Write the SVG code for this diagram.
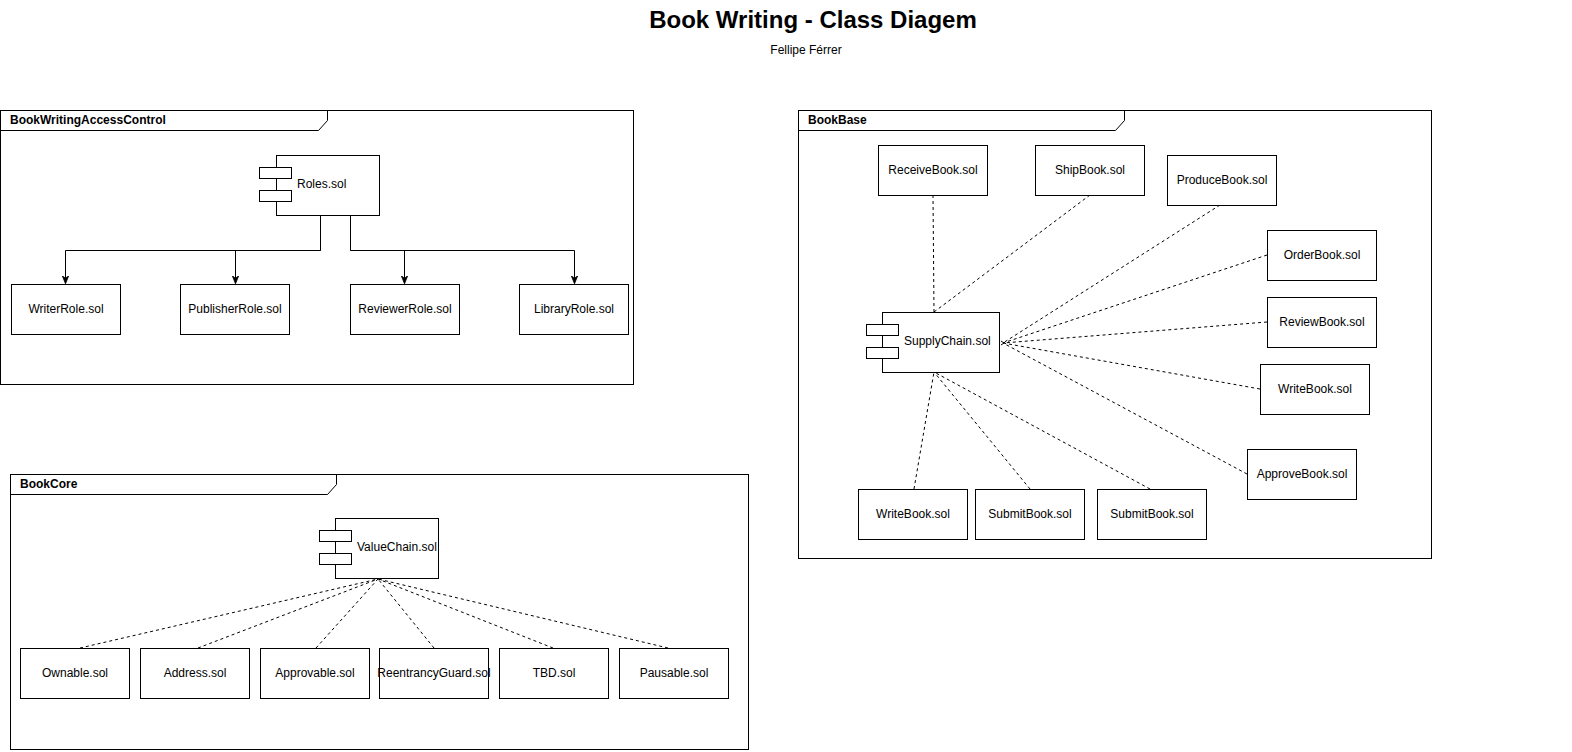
<svg xmlns="http://www.w3.org/2000/svg" width="1572" height="752" viewBox="0 0 1572 752">
<defs>
<style>
text{font-family:"Liberation Sans",Arial,sans-serif;fill:#000}
.t{font-size:12px;text-anchor:middle}
.fl{font-size:12px;font-weight:bold}
.b{fill:#fff;stroke:#000;stroke-width:1}
.f{fill:none;stroke:#000;stroke-width:1}
.s{fill:none;stroke:#000;stroke-width:1}
.d{fill:none;stroke:#000;stroke-width:1;stroke-dasharray:3 3}
</style>
<marker id="arr" viewBox="0 0 10 10" refX="9" refY="5" markerWidth="8" markerHeight="8" markerUnits="userSpaceOnUse" orient="auto">
<path d="M0,1 L10,5 L0,9 L3,5 Z" fill="#000" stroke="#000"/>
</marker>
</defs>
<rect width="1572" height="752" fill="#fff"/>
<g id="title">
<text x="813" y="28" style="font-size:24px;font-weight:bold;text-anchor:middle">Book Writing - Class Diagem</text>
<text x="806" y="54" style="font-size:12px;text-anchor:middle">Fellipe Férrer</text>
</g>
<g id="frame-access">
<rect class="f" x="0.5" y="110.5" width="633" height="274"/>
<path class="f" d="M0.5,130.5 H318.5 L327.5,120.5 V110.5"/>
<text class="fl" x="10" y="124">BookWritingAccessControl</text>
</g>
<g id="frame-core">
<rect class="f" x="10.5" y="474.5" width="738" height="275"/>
<path class="f" d="M10.5,494.5 H327.5 L336.5,484.5 V474.5"/>
<text class="fl" x="20" y="488">BookCore</text>
</g>
<g id="frame-base">
<rect class="f" x="798.5" y="110.5" width="633" height="448"/>
<path class="f" d="M798.5,130.5 H1115.5 L1124.5,120.5 V110.5"/>
<text class="fl" x="808" y="124">BookBase</text>
</g>
<g id="connectors">
<path class="s" d="M320.5,215 V250.5 H65.5 V283" marker-end="url(#arr)"/>
<path class="s" d="M320.5,250.5 H235.5 V283" marker-end="url(#arr)"/>
<path class="s" d="M350.5,215 V250.5 H574.5 V283" marker-end="url(#arr)"/>
<path class="s" d="M350.5,250.5 H404.5 V283" marker-end="url(#arr)"/>
<path class="d" d="M80,648 L378,579"/>
<path class="d" d="M198,648 L378,579"/>
<path class="d" d="M316,648 L378,579"/>
<path class="d" d="M434,648 L378,579"/>
<path class="d" d="M553,648 L378,579"/>
<path class="d" d="M668,648 L378,579"/>
<path class="d" d="M933,195 L934,312"/>
<path class="d" d="M1090,195 L934,312"/>
<path class="d" d="M1220,205 L1003,343"/>
<path class="d" d="M1267,255 L1003,343"/>
<path class="d" d="M1267,322 L1003,343"/>
<path class="d" d="M1260,389 L1003,343"/>
<path class="d" d="M1247,474 L1003,343"/>
<path class="d" d="M914,489 L934,372"/>
<path class="d" d="M1030,489 L934,372"/>
<path class="d" d="M1150,489 L934,372"/>
</g>
<g id="roles">
<rect class="b" x="276.5" y="155.5" width="103" height="60"/>
<rect class="b" x="259.5" y="167.5" width="32" height="11"/>
<rect class="b" x="259.5" y="190.5" width="32" height="11"/>
<text x="297" y="188" style="font-size:12px">Roles.sol</text>
</g>
<g id="writerrole"><rect class="b" x="11.5" y="284.5" width="109" height="50"/><text class="t" x="66" y="313">WriterRole.sol</text></g>
<g id="publisherrole"><rect class="b" x="180.5" y="284.5" width="109" height="50"/><text class="t" x="235" y="313">PublisherRole.sol</text></g>
<g id="reviewerrole"><rect class="b" x="350.5" y="284.5" width="109" height="50"/><text class="t" x="405" y="313">ReviewerRole.sol</text></g>
<g id="libraryrole"><rect class="b" x="519.5" y="284.5" width="109" height="50"/><text class="t" x="574" y="313">LibraryRole.sol</text></g>
<g id="valuechain">
<rect class="b" x="335.5" y="518.5" width="103" height="60"/>
<rect class="b" x="319.5" y="530.5" width="32" height="11"/>
<rect class="b" x="319.5" y="553.5" width="32" height="11"/>
<text x="357" y="551" style="font-size:12px">ValueChain.sol</text>
</g>
<g id="ownable"><rect class="b" x="20.5" y="648.5" width="109" height="50"/><text class="t" x="75" y="677">Ownable.sol</text></g>
<g id="address"><rect class="b" x="140.5" y="648.5" width="109" height="50"/><text class="t" x="195" y="677">Address.sol</text></g>
<g id="approvable"><rect class="b" x="260.5" y="648.5" width="109" height="50"/><text class="t" x="315" y="677">Approvable.sol</text></g>
<g id="reentrancyguard"><rect class="b" x="379.5" y="648.5" width="109" height="50"/><text class="t" x="434" y="677">ReentrancyGuard.sol</text></g>
<g id="tbd"><rect class="b" x="499.5" y="648.5" width="109" height="50"/><text class="t" x="554" y="677">TBD.sol</text></g>
<g id="pausable"><rect class="b" x="619.5" y="648.5" width="109" height="50"/><text class="t" x="674" y="677">Pausable.sol</text></g>
<g id="supplychain">
<rect class="b" x="882.5" y="312.5" width="117" height="60"/>
<rect class="b" x="866.5" y="324.5" width="32" height="11"/>
<rect class="b" x="866.5" y="347.5" width="32" height="11"/>
<text x="904" y="345" style="font-size:12px">SupplyChain.sol</text>
<path d="M1001,341 l3,2 l-3,2" fill="none" stroke="#000"/>
</g>
<g id="receivebook"><rect class="b" x="878.5" y="145.5" width="109" height="50"/><text class="t" x="933" y="174">ReceiveBook.sol</text></g>
<g id="shipbook"><rect class="b" x="1035.5" y="145.5" width="109" height="50"/><text class="t" x="1090" y="174">ShipBook.sol</text></g>
<g id="producebook"><rect class="b" x="1167.5" y="155.5" width="109" height="50"/><text class="t" x="1222" y="184">ProduceBook.sol</text></g>
<g id="orderbook"><rect class="b" x="1267.5" y="230.5" width="109" height="50"/><text class="t" x="1322" y="259">OrderBook.sol</text></g>
<g id="reviewbook"><rect class="b" x="1267.5" y="297.5" width="109" height="50"/><text class="t" x="1322" y="326">ReviewBook.sol</text></g>
<g id="writebook-right"><rect class="b" x="1260.5" y="364.5" width="109" height="50"/><text class="t" x="1315" y="393">WriteBook.sol</text></g>
<g id="approvebook"><rect class="b" x="1247.5" y="449.5" width="109" height="50"/><text class="t" x="1302" y="478">ApproveBook.sol</text></g>
<g id="writebook-bottom"><rect class="b" x="858.5" y="489.5" width="109" height="50"/><text class="t" x="913" y="518">WriteBook.sol</text></g>
<g id="submitbook-1"><rect class="b" x="975.5" y="489.5" width="109" height="50"/><text class="t" x="1030" y="518">SubmitBook.sol</text></g>
<g id="submitbook-2"><rect class="b" x="1097.5" y="489.5" width="109" height="50"/><text class="t" x="1152" y="518">SubmitBook.sol</text></g>
</svg>
